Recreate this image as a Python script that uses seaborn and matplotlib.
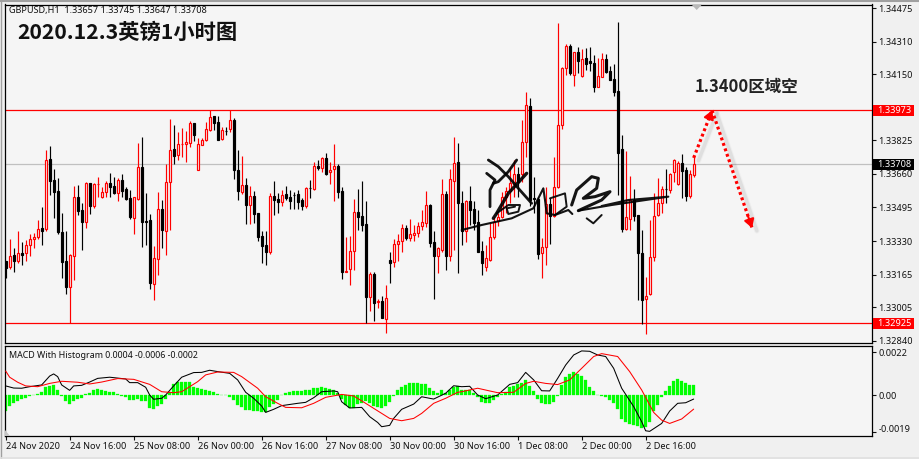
import seaborn as sns
import matplotlib.pyplot as plt
import matplotlib.transforms as mtrans
from matplotlib.patches import Rectangle
import numpy as np

sns.set_style('white')
plt.rcParams['font.family'] = ['Noto Sans', 'DejaVu Sans']

# GBPUSD H1 prices, in points (1e-5)
opens = [133232,133204,133261,133234,133271,133270,133312,133342,133352,133394,
133389,133734,133630,133576,133375,133232,133106,133255,133547,133483,
133425,133616,133504,133609,133548,133573,133616,133601,133568,133629,
133586,133542,133445,133537,133693,133429,133434,133120,133243,133486,
133381,133619,133781,133755,133806,133806,133814,133911,133681,133804,
133826,133878,133944,133916,133830,133871,133880,133924,133678,133573,
133606,133509,133550,133466,133353,133309,133278,133550,133535,133524,
133560,133545,133558,133560,133532,133502,133593,133586,133698,133691,
133737,133668,133683,133699,133575,133179,133191,133279,133471,133453,
133412,133056,133168,133029,133035,132948,133235,133225,133317,133332,
133393,133347,133361,133368,133402,133417,133506,133324,133258,133288,
133560,133258,133627,133717,133516,133378,133525,133486,133422,133281,
133204,133235,133352,133429,133450,133548,133578,133609,133658,133658,
133819,133993,133542,133537,133273,133302,133511,133453,133594,133899,
134183,134288,134149,134259,134140,134229,134214,134204,134090,134139,
134227,134168,134126,134068,133783,133388,133437,133532,133457,133270,
133043,133068,133250,133458,133516,133586,133581,133668,133609,133712,
133678,133553,133657]
closes = [133199,133255,133234,133270,133263,133309,133338,133348,133388,133381,
133727,133627,133573,133375,133229,133106,133261,133545,133480,133425,
133614,133504,133612,133611,133571,133616,133598,133568,133629,133576,
133537,133447,133545,133693,133425,133425,133125,133245,133486,133384,
133619,133776,133750,133806,133809,133816,133909,133853,133806,133826,
133880,133939,133912,133829,133875,133870,133924,133680,133575,133606,
133509,133550,133465,133352,133307,133278,133550,133534,133524,133555,
133543,133529,133555,133524,133504,133589,133589,133698,133691,133739,
133660,133678,133698,133573,133179,133184,133279,133471,133450,133411,
133056,133168,133027,133035,132953,133048,133224,133314,133329,133393,
133347,133363,133368,133402,133422,133506,133322,133258,133297,133560,
133258,133634,133712,133516,133378,133525,133483,133420,133278,133224,
133245,133348,133425,133450,133548,133578,133614,133658,133622,133816,
133998,133532,133539,133266,133302,133511,133453,133598,133899,134183,
134288,134157,134259,134218,134227,134201,134204,134090,134140,134227,
134163,134122,134065,133765,133388,133447,133532,133453,133273,133040,
133061,133250,133455,133516,133584,133584,133660,133730,133712,133676,
133553,133658,133708]
highs = [133232,133340,133294,133379,133324,133335,133363,133368,133434,133499,
133778,133798,133683,133639,133470,133379,133265,133601,133606,133516,
133621,133617,133617,133647,133594,133625,133663,133647,133639,133660,
133598,133581,133548,133811,133840,133565,133461,133306,133571,133532,
133709,133929,133901,133868,133886,133873,133922,133912,133835,133839,
133914,133973,133947,133945,133893,133893,133973,133935,133778,133748,
133640,133601,133576,133466,133379,133379,133568,133625,133565,133581,
133601,133581,133571,133581,133543,133598,133630,133717,133729,133745,
133762,133721,133808,133709,133594,133352,133355,133535,133584,133625,
133527,133179,133179,133045,133060,133114,133276,133338,133365,133414,
133409,133439,133409,133425,133483,133576,133512,133379,133299,133635,
133578,133683,133842,133811,133576,133532,133601,133527,133483,133330,
133311,133417,133450,133466,133573,133598,133696,133729,133696,133926,
134062,134032,133647,133548,133343,133598,133540,133742,134401,134188,
134300,134300,134262,134286,134273,134278,134283,134245,134229,134254,
134250,134193,134201,134408,133852,133773,133650,133586,133458,133384,
133155,133434,133565,133642,133603,133685,133666,133732,133726,133757,
133696,133680,133745]
lows = [133150,133191,133179,133220,133212,133234,133258,133294,133338,133311,
133378,133557,133445,133363,133150,133070,132925,133138,133458,133286,
133394,133463,133494,133548,133543,133548,133548,133562,133527,133548,
133532,133437,133365,133532,133302,133311,133092,133042,133163,133294,
133261,133384,133709,133729,133742,133717,133794,133822,133680,133801,
133824,133873,133876,133827,133827,133852,133868,133635,133532,133562,
133414,133414,133420,133332,133220,133212,133266,133458,133466,133501,
133532,133488,133488,133488,133483,133491,133543,133581,133680,133671,
133655,133611,133529,133540,133143,133179,133111,133188,133384,133381,
132925,132986,132938,132999,132950,132876,133125,133204,133234,133278,
133335,133332,133332,133352,133384,133398,133302,133045,133174,133278,
133188,133234,133286,133174,133311,133327,133409,133384,133275,133163,
133184,133232,133338,133404,133442,133466,133516,133548,133548,133622,
133745,133502,133466,133242,133150,133212,133314,133450,133593,133883,
134149,134149,134093,134158,134136,134172,134168,134065,134086,134136,
134158,134122,134045,133557,133376,133384,133384,133430,133040,132920,
132871,133065,133234,133455,133466,133516,133565,133622,133606,133543,
133527,133543,133647]

# MACD pane, in 1e-5
hist = [-83,-55,-43,-31,-22,-14,-3,2,7,14,
41,48,52,26,-3,-29,-45,-31,-22,-17,
3,12,24,29,24,21,17,14,7,-3,
-12,-26,-26,-19,-29,-31,-66,-74,-57,-47,
-22,17,55,66,67,67,66,43,35,29,
24,21,16,3,2,-2,-9,-28,-52,-60,
-76,-78,-81,-83,-90,-90,-64,-48,-28,-2,
10,17,21,19,21,24,28,35,38,40,
35,33,28,9,-21,-52,-69,-69,-47,-40,
-31,-43,-55,-64,-67,-59,-36,-3,26,43,
54,60,62,62,59,57,38,21,12,26,
9,26,43,48,26,26,26,12,-9,-36,
-43,-43,-26,-12,5,17,40,47,55,64,
78,47,21,-22,-43,-45,-45,-36,-3,52,
92,109,119,107,98,78,43,21,-2,-5,
-12,-26,-40,-73,-123,-142,-150,-155,-161,-173,
-168,-140,-85,-52,-12,22,45,74,81,74,
62,54,52]
macd_idx = [0,2,4,6,9,11,12,13,14,16,17,19,21,23,26,30,31,33,35,36,37,39,40,42,44,47,49,51,53,56,
58,60,62,64,65,67,69,73,75,77,79,82,83,84,86,89,91,93,94,96,97,99,102,104,107,110,112,114,116,118,
120,123,126,128,130,132,134,136,138,140,142,144,146,148,150,152,154,157,159,160,161,164,166,168,170,172]
macd_val = [47,36,35,43,52,98,109,95,52,24,47,50,67,86,92,83,64,64,40,0,-22,-17,0,47,92,116,117,128,121,112,
78,14,-17,-57,-90,-74,-55,-43,-38,-14,17,21,17,-35,-67,-64,-112,-142,-164,-157,-121,-74,-47,-9,-21,9,48,43,45,0,
-19,0,55,64,117,78,22,21,86,155,207,228,226,207,199,138,35,-60,-138,-185,-188,-147,-83,-43,-40,-21]
signal_idx = [0,1,3,5,8,11,14,18,21,24,28,32,36,39,42,44,48,50,53,57,59,63,65,68,70,74,77,80,84,87,
90,94,96,99,102,104,107,110,113,114,118,121,123,127,130,132,135,138,141,144,147,149,153,156,159,162,164,166,169,172]
signal_val = [124,92,66,47,43,60,71,66,57,67,85,81,55,17,12,17,69,104,119,117,95,35,-9,-43,-64,-66,-43,-12,3,-5,
-43,-95,-121,-133,-121,-95,-43,-17,14,17,35,21,12,14,60,71,60,54,78,138,199,214,199,121,26,-90,-130,-147,-124,-73]

price_ticks = [134475,134310,134150,133825,133660,133495,133330,133165,133005,132840]
line_high = 133973
line_low = 132925
line_last = 133708
time_labels = ['24 Nov 2020','24 Nov 16:00','25 Nov 08:00','26 Nov 00:00','26 Nov 16:00','27 Nov 08:00',
               '30 Nov 00:00','30 Nov 16:00','1 Dec 08:00','2 Dec 00:00','2 Dec 16:00']
macd_ticks = [0.0022, 0.0, -0.0019]
macd_tick_labels = ['0.0022', '0.00', '-0.0019']

BG = '#f5f5f5'
W, H = 919, 459
AXIS_FS = 6.6
idx = np.arange(len(opens))
o, h, l, c = [np.array(a) / 1e5 for a in (opens, highs, lows, closes)]
up = c >= o
px = lambda x0, y0, x1, y1: [x0 / W, 1 - y1 / H, (x1 - x0) / W, (y1 - y0) / H]

fig = plt.figure(figsize=(W / 100, H / 100), dpi=100, facecolor='#f0f0f0')

# price pane
ax = fig.add_axes(px(4.5, 4.5, 871.5, 343), facecolor=BG)
ax.set_xlim((4.5 - 5.67) / 4, (871.5 - 5.67) / 4)
ax.set_ylim(1.32828, 1.34494)
ax.axhline(line_last / 1e5, color='#c0c0c0', lw=0.9, zorder=1)
ax.axhline(line_high / 1e5, color='#ff0000', lw=0.9, zorder=1)
ax.axhline(line_low / 1e5, color='#ff0000', lw=0.9, zorder=1)
colors = np.where(up, '#ff0000', '#000000')
ax.vlines(idx, l, h, colors=colors, lw=0.85, zorder=2)
ax.bar(idx, np.abs(c - o), bottom=np.minimum(o, c), width=0.55, color=np.where(up, BG, '#000000'),
       edgecolor=colors, lw=0.85, zorder=3)

# dotted arrows with soft shadow
arrows = [((172, 1.33739), (176.6, 1.33973)), ((176.6, 1.33973), (186.6, 1.33394))]
for (x0, y0), (x1, y1) in arrows:
    for lw, al in [(4, 0.05), (2.5, 0.12)]:
        ax.plot([x0 + 1.2, x1 + 1.2], [y0 - 0.00014, y1 - 0.00014], color='#777777', lw=lw, alpha=al,
                solid_capstyle='round', zorder=4)
    ax.plot([x0, x1], [y0, y1], color='#ff0000', lw=2.3, linestyle=(0, (0.9, 0.9)), zorder=5)
    ax.annotate('', xy=(x1, y1), xytext=(x1 - (x1 - x0) * 0.1, y1 - (y1 - y0) * 0.1), zorder=5,
                arrowprops=dict(arrowstyle='-|>,head_length=0.5,head_width=0.3', color='#ff0000', lw=1.5,
                                shrinkA=0, shrinkB=0))

ax.text(9 / W, 1 - 11 / H, 'GBPUSD,H1  1.33657 1.33745 1.33647 1.33708', transform=fig.transFigure,
        fontsize=6.55, color='#111111', va='center')
ax.text(17 / W, 1 - 32 / H, '2020.12.3英镑1小时图', transform=fig.transFigure, fontsize=15.3,
        family=['Noto Sans CJK SC', 'DejaVu Sans'], weight='bold', color='#111111', va='center')
ax.text(695 / W, 1 - 87 / H, '1.3400区域空', transform=fig.transFigure, fontsize=11.9,
        family=['Noto Sans CJK SC', 'DejaVu Sans'], weight='bold', color='#222222', va='center')

ax.yaxis.tick_right()
ax.set_yticks([t / 1e5 for t in price_ticks], [f'{t / 1e5:.5f}' for t in price_ticks])
ax.tick_params(axis='y', length=3, width=0.8, pad=2, labelsize=AXIS_FS, colors='#111111', right=True)
ax.set_xticks([])
for val, fc in [(line_high, '#ff0000'), (line_last, '#000000'), (line_low, '#ff0000')]:
    ax.add_patch(Rectangle((1.0015, val / 1e5 - 0.00027), 0.047, 0.00054, transform=ax.get_yaxis_transform(),
                           fc=fc, ec='none', clip_on=False, zorder=6))
    ax.text(1.0062, val / 1e5, f'{val / 1e5:.5f}', transform=ax.get_yaxis_transform(), fontsize=AXIS_FS,
            color='white', va='center', ha='left', zorder=7, clip_on=False)

# MACD pane
ax2 = fig.add_axes(px(4.5, 345.5, 871.5, 436), facecolor=BG)
sns.barplot(x=idx, y=np.array(hist) / 1e5, native_scale=True, color='#00ff00', saturation=1, width=0.7,
            edgecolor='#00ff00', linewidth=0.2, ax=ax2, zorder=2)
sns.lineplot(x=macd_idx, y=np.array(macd_val) / 1e5, color='#000000', lw=0.75, ax=ax2, zorder=3)
sns.lineplot(x=signal_idx, y=np.array(signal_val) / 1e5, color='#ff0000', lw=0.75, ax=ax2, zorder=4)
ax2.set_xlim(ax.get_xlim())
ax2.set_ylim(-0.00212, 0.00256)
ax2.yaxis.tick_right()
ax2.set_yticks(macd_ticks, macd_tick_labels)
ax2.tick_params(axis='y', length=3, width=0.8, pad=2, labelsize=AXIS_FS, colors='#111111', right=True)
low_label = ax2.get_yticklabels()[-1]
low_label.set_transform(low_label.get_transform() + mtrans.ScaledTranslation(0, 2 / 72, fig.dpi_scale_trans))
ax2.set_xticks(np.arange(len(time_labels)) * 16, time_labels, ha='left')
ax2.tick_params(axis='x', length=3, width=0.8, pad=1.5, labelsize=AXIS_FS, colors='#111111', bottom=True)
ax2.set_xlabel('')
ax2.set_ylabel('')
ax2.text(9 / W, 1 - 355 / H, 'MACD With Histogram 0.0004 -0.0006 -0.0002', transform=fig.transFigure,
         fontsize=6.4, color='#111111', va='center')

for a in (ax, ax2):
    for s in a.spines.values():
        s.set_color('#000000')
        s.set_linewidth(0.9)

# window frame, markers and handwritten signature drawn over everything in picture pixels
top = fig.add_axes([0, 0, 1, 1], facecolor='none')
top.set_xlim(0, W)
top.set_ylim(H, 0)
top.axis('off')
top.plot([0, W], [0.5, 0.5], color='#a0a0a0', lw=1.5)
top.plot([0.5, 0.5], [0, H], color='#a0a0a0', lw=1.0)
top.plot([0, W], [457.5, 457.5], color='#e0e0e0', lw=1.2)
top.fill([691.5, 702, 696.7], [4.5, 4.5, 10], color='#b8b8b8', lw=0)
top.fill([5, 5, 10], [430, 436, 436], color='#c4c4c4', lw=0)

strokes = [
    ([(100, 30), (130, 50), (160, 80), (190, 115), (230, 160)], 2.0),
    ([(95, 70), (120, 90), (105, 120), (105, 170)], 2.0),
    ([(185, 30), (160, 65), (130, 95), (115, 100)], 2.0),
    ([(215, 70), (160, 130), (125, 190), (115, 205)], 2.4),
    ([(125, 190), (160, 165), (195, 165), (190, 185), (160, 192), (155, 175), (180, 170)], 1.4),
    ([(20, 240), (80, 225), (170, 205), (235, 175), (265, 115), (270, 150), (275, 190), (300, 195), (340, 180), (352, 192)], 1.5),
    ([(285, 145), (330, 130), (335, 170), (300, 195)], 1.4),
    ([(350, 165), (365, 120), (410, 80), (430, 85), (425, 115), (385, 145), (420, 140), (465, 125), (440, 150), (370, 182)], 2.2),
    ([(370, 182), (470, 165), (640, 140), (520, 150), (440, 168)], 1.5),
    ([(395, 205), (415, 220), (440, 195)], 1.4),
]
for pts, lw in strokes:
    sx, sy = zip(*pts)
    top.plot(455 + np.array(sx) / 3, 150 + np.array(sy) / 3, color='#000000', lw=lw, alpha=0.92,
             solid_capstyle='round', solid_joinstyle='round')

plt.savefig('out.png', dpi=100, facecolor=fig.get_facecolor())
